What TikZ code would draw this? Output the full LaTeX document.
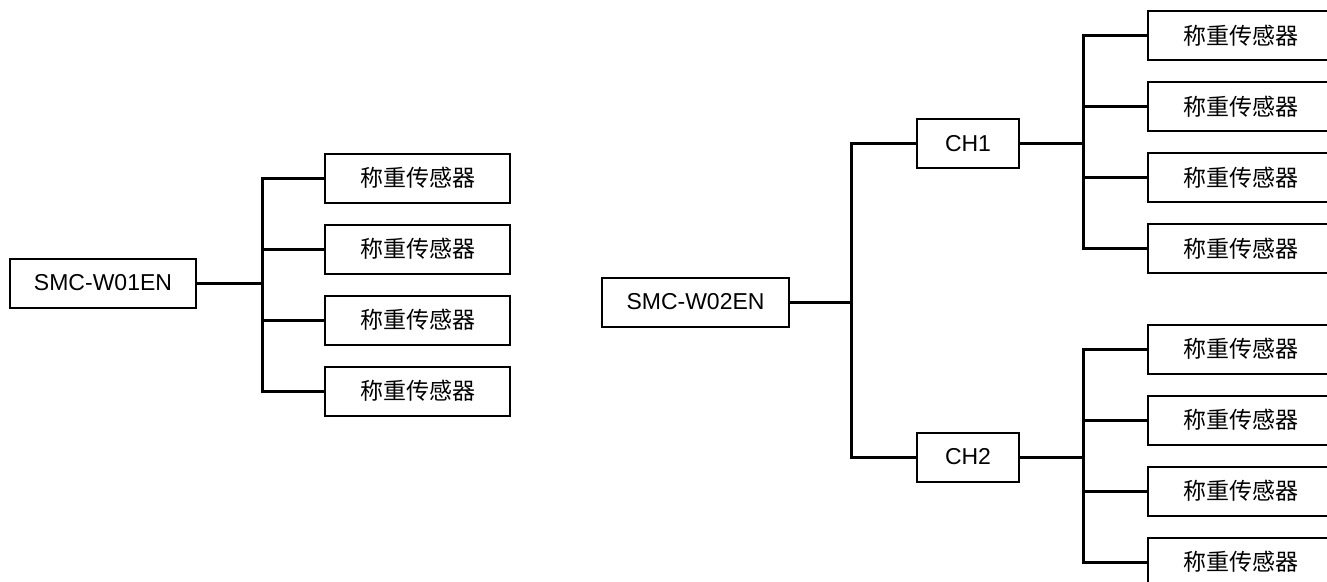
\documentclass[tikz,border=0pt]{standalone}
\usepackage{fontspec}
\setmainfont{Liberation Sans}
\newfontfamily\cjk{Noto Sans CJK SC}

\begin{document}
\begin{tikzpicture}[x=1pt, y=-1pt,
    box/.style={draw, line width=2pt, inner sep=0pt, minimum height=49pt,
                font=\fontsize{23}{28}\selectfont},
    wire/.style={line width=3pt}]
  \useasboundingbox (0,0) rectangle (1327,581);
  \clip (0,0) rectangle (1327,581);

  % left: SMC-W01EN, one bus
  \node [box, minimum width=186pt] (smcA) at (103, 283) {SMC-W01EN};
  \coordinate (tapA) at (262, 283);
  \draw [wire] (smcA) -- (tapA);

  \foreach \j in {1,...,4}
    {
      \node [box, minimum width=185pt] (senA\j) at (417.5, 107+71*\j) {\cjk 称重传感器};
      \draw [wire] (senA\j.west) -| (tapA);
    }

  % right: SMC-W02EN, two channels
  \node [box, minimum width=187pt] (smcB) at (695.5, 302) {SMC-W02EN};
  \node [box, minimum width=102pt] (ch1) at (968, 143.5) {CH1};
  \node [box, minimum width=102pt] (ch2) at (968, 457) {CH2};

  \coordinate (tapB) at (851, 302);
  \draw [wire] (smcB) -- (tapB);
  \draw [wire] (ch1.west) -| (tapB);
  \draw [wire] (ch2.west) -| (tapB);

  \foreach \c in {1, 2}
    {
      \path (ch\c.east) ++(63,0) coordinate (tap\c);
      \draw [wire] (ch\c) -- (tap\c);

      \foreach \j in {0,...,3}
        {
          \path (tap\c) ++(157.5, -108+71*\j) node [box, minimum width=185pt] (sen\c\j) {\cjk 称重传感器};
          \draw [wire] (sen\c\j.west) -| (tap\c);
        }
    }

\end{tikzpicture}
\end{document}
